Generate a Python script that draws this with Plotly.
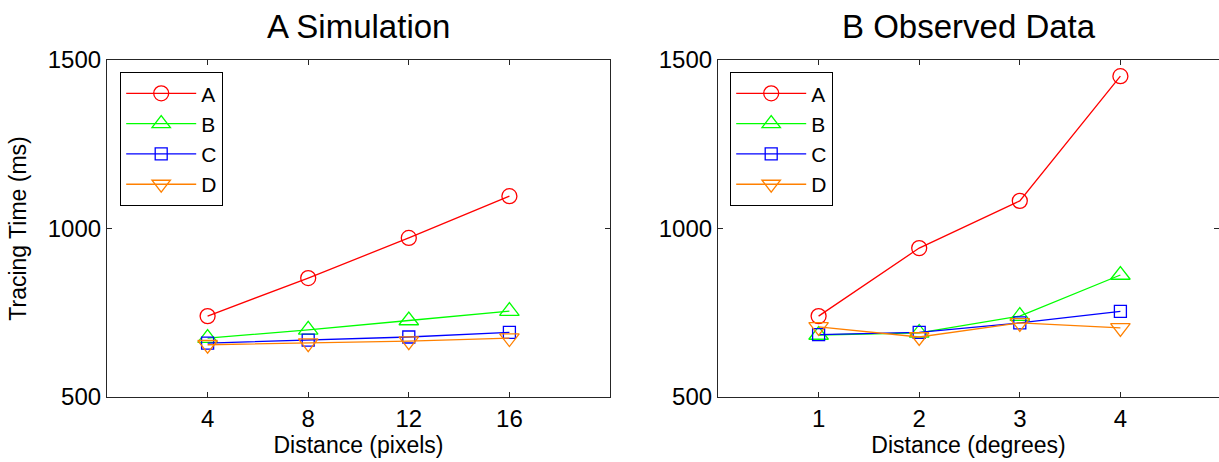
import plotly.graph_objects as go

# ---- data ----
series_names = ["A", "B", "C", "D"]
sim_x = [4, 8, 12, 16]
sim_A = [740, 853, 972, 1096]
sim_B = [675, 699, 727, 755]
sim_C = [660, 669, 678, 692]
sim_D = [655, 660, 666, 675]

obs_x = [1, 2, 3, 4]
obs_A = [740, 942, 1082, 1452]
obs_B = [684, 690, 740, 862]
obs_C = [685, 692, 720, 754]
obs_D = [708, 678, 720, 705]

sim_ticks = [4, 8, 12, 16]
obs_ticks = [1, 2, 3, 4]
y_ticks = [500, 1000, 1500]

colors = ["#ff0000", "#00ff00", "#0000ff", "#ff8000"]
symbols = ["circle-open", "triangle-up-open", "square-open", "triangle-down-open"]
sizes = [15, 17, 12, 17]

FONT = "Arial, Liberation Sans, Helvetica, sans-serif"

fig = go.Figure()
sim_vals = [sim_A, sim_B, sim_C, sim_D]
obs_vals = [obs_A, obs_B, obs_C, obs_D]
for i, name in enumerate(series_names):
    fig.add_trace(go.Scatter(
        x=sim_x, y=sim_vals[i], name=name, mode="lines+markers",
        line=dict(color=colors[i], width=1.3),
        marker=dict(symbol=symbols[i], size=sizes[i], color=colors[i],
                    line=dict(width=1.3, color=colors[i])),
        xaxis="x", yaxis="y", legend="legend"))
for i, name in enumerate(series_names):
    fig.add_trace(go.Scatter(
        x=obs_x, y=obs_vals[i], name=name, mode="lines+markers",
        line=dict(color=colors[i], width=1.3),
        marker=dict(symbol=symbols[i], size=sizes[i], color=colors[i],
                    line=dict(width=1.3, color=colors[i])),
        xaxis="x2", yaxis="y2", legend="legend2"))

W, H = 1219, 462
top = 1 - 60 / H
bot = 1 - 397 / H

axis_common = dict(
    showgrid=False, zeroline=False, showline=True, linecolor="#262626",
    linewidth=1.2, mirror="ticks", ticks="inside", ticklen=5,
    tickcolor="#262626", tickfont=dict(size=24, color="#000", family=FONT),
    automargin=False,
)

fig.update_layout(
    width=W, height=H,
    margin=dict(l=0, r=0, t=0, b=0),
    paper_bgcolor="white", plot_bgcolor="white",
    font=dict(family=FONT, color="#000"),
    xaxis=dict(domain=[107 / W, 610 / W], range=[0, 20], tickvals=sim_ticks,
               anchor="y", title=dict(text="Distance (pixels)", font=dict(size=23), standoff=0),
               **axis_common),
    yaxis=dict(domain=[bot, top], range=[500, 1500], tickvals=y_ticks,
               anchor="x", title=dict(text="Tracing Time (ms)", font=dict(size=23), standoff=14),
               **axis_common),
    xaxis2=dict(domain=[718 / W, 1.0], range=[0, 5 * (W - 718) / 503], tickvals=obs_ticks,
                anchor="y2", title=dict(text="Distance (degrees)", font=dict(size=23), standoff=0),
                **axis_common),
    yaxis2=dict(domain=[bot, top], range=[500, 1500], tickvals=y_ticks,
                anchor="x2", **axis_common),
    legend=dict(x=120 / W, y=1 - 72 / H, xanchor="left", yanchor="top",
                bgcolor="white", bordercolor="#000", borderwidth=1.2,
                font=dict(size=21, family=FONT), itemwidth=70),
    legend2=dict(x=730 / W, y=1 - 72 / H, xanchor="left", yanchor="top",
                 bgcolor="white", bordercolor="#000", borderwidth=1.2,
                 font=dict(size=21, family=FONT), itemwidth=70),
    annotations=[
        dict(text="A Simulation", xref="x domain", yref="paper", x=0.5, y=1 - 27 / H,
             xanchor="center", yanchor="middle", showarrow=False,
             font=dict(size=33, family=FONT)),
        dict(text="B Observed Data", xref="x2 domain", yref="paper", x=0.5, y=1 - 27 / H,
             xanchor="center", yanchor="middle", showarrow=False,
             font=dict(size=33, family=FONT)),
    ],
)

fig.write_html("out.html",
               config={"displayModeBar": False},
               post_script="document.body.style.margin='0px';document.body.style.overflow='hidden';")
